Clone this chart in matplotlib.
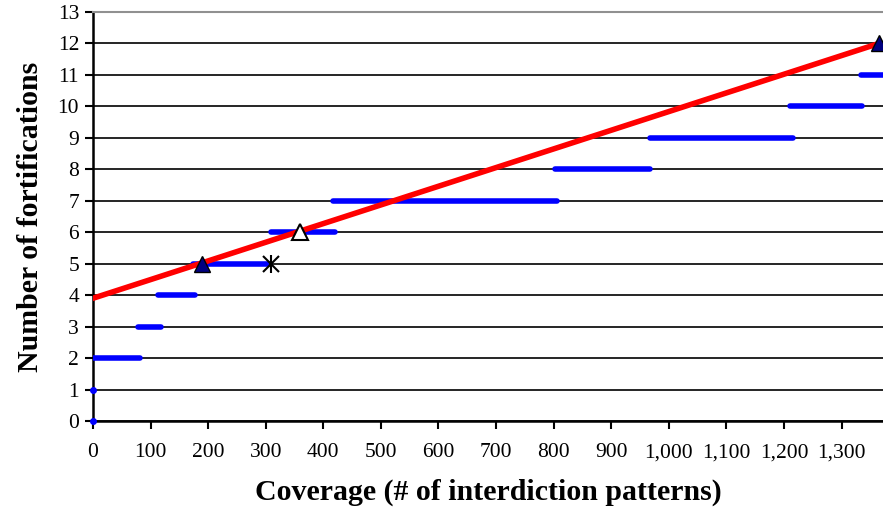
import matplotlib
matplotlib.use('Agg')
import matplotlib.pyplot as plt
from matplotlib.ticker import FuncFormatter
import numpy as np

plt.rcParams['font.family'] = ['Liberation Serif']

# blue step segments: level, start, end
levels = [0, 1, 2, 3, 4, 5, 6, 7, 8, 9, 10, 11]
seg_start = [0, 0, 0, 78, 113, 174, 309, 417, 802, 967, 1210, 1333]
seg_end = [0, 0, 82, 118, 177, 307, 420, 806, 967, 1215, 1335, 1372]

# red trend line
red_x = [0, 1365]
red_y = [3.9, 12.0]

# markers
filled_tri_x = [190, 1365]
filled_tri_y = [5, 12]
star_x = [310]
star_y = [5]
open_tri_x = [360]
open_tri_y = [6]

fig = plt.figure(figsize=(8.83, 5.14), dpi=100)
ax = fig.add_axes([0.1053, 0.181, 0.8947, 0.7957])

for lv, a, b in zip(levels, seg_start, seg_end):
    if a == b:
        ax.plot([a], [lv], 'o', color='#0000ff', ms=4, clip_on=False, zorder=3)
    else:
        ax.plot([a, b], [lv, lv], color='#0000ff', lw=4, solid_capstyle='round', zorder=3)

ax.plot(red_x, red_y, color='#ff0000', lw=4, zorder=4)

ax.plot(filled_tri_x, filled_tri_y, '^', color='#000080', mec='black', ms=11, clip_on=False, zorder=5)
ax.plot(star_x, star_y, 'x', color='black', ms=11, mew=1.5, zorder=5)
ax.plot(star_x, star_y, '|', color='black', ms=13, mew=1.5, zorder=5)
ax.plot(open_tri_x, open_tri_y, '^', mfc='white', mec='black', ms=12, mew=1.5, zorder=5)

ax.set_xlim(0, 1372)
ax.set_ylim(0, 13)
ax.set_xticks(np.arange(0, 1301, 100))
ax.set_yticks(np.arange(0, 14, 1))
ax.xaxis.set_major_formatter(FuncFormatter(lambda v, p: f'{int(v):,}'))
ax.grid(axis='y', color='black', lw=1.2)
ax.set_axisbelow(True)

ax.spines['right'].set_visible(False)
ax.spines['top'].set_color('#909090')
ax.spines['top'].set_linewidth(1.5)
ax.spines['left'].set_linewidth(1.8)
ax.spines['bottom'].set_linewidth(1.8)
ax.tick_params(direction='out', length=6, width=1.5, labelsize=15.5, colors='black')
ax.tick_params(axis='x', pad=10)
ax.tick_params(axis='y', pad=4)

ax.set_xlabel('Coverage (# of interdiction patterns)', fontsize=21.5, fontweight='bold', labelpad=12)
ax.set_ylabel('Number of fortifications', fontsize=21.5, fontweight='bold', labelpad=10)

fig.savefig('out.png', dpi=100)
